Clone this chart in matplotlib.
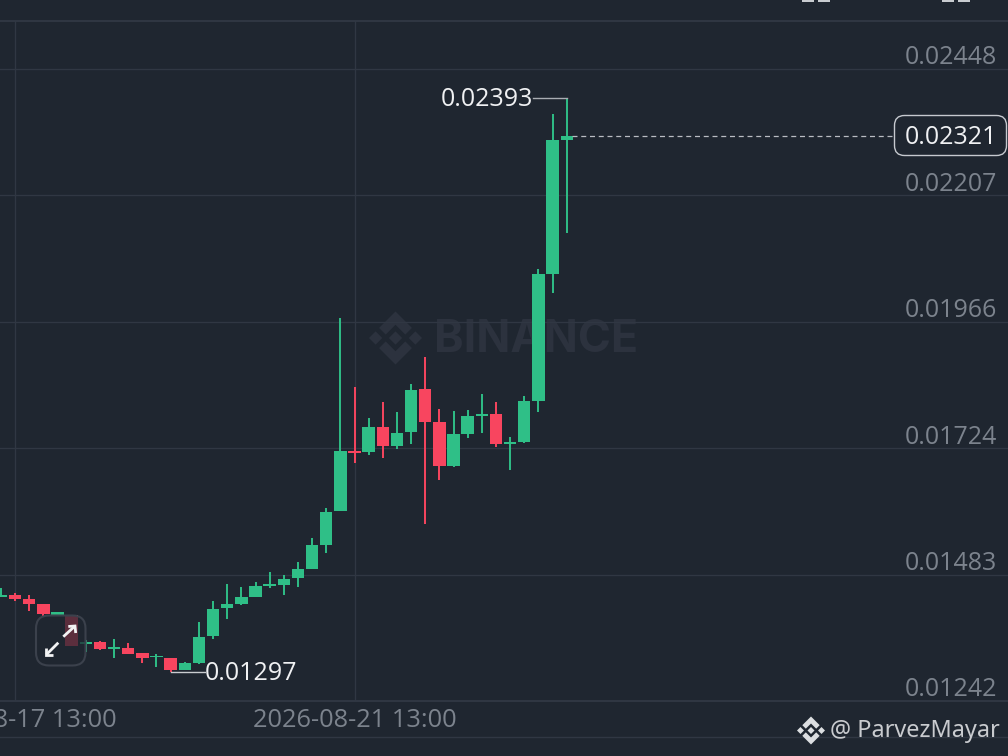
import matplotlib
matplotlib.use("Agg")
import matplotlib.pyplot as plt
import numpy as np
from matplotlib.patches import FancyBboxPatch, Polygon, Rectangle
from matplotlib.transforms import ScaledTranslation, blended_transform_factory

# ---- data ----
opens = [.014399,.014443,.014361,.014271,.014067,.014061,.013502,.013540,.013407,.013431,
         .013336,.013254,.013246,.013017,.013151,.013655,.014189,.014277,.014405,.014609,
         .014639,.014761,.014939,.015403,.016040,.017196,.017177,.017648,.017280,.017547,
         .018374,.017750,.016899,.017521,.017858,.017897,.017324,.017368,.018145,.020562,.023125]
highs = [.014571,.014475,.014443,.014277,.014113,.014061,.013584,.013565,.013597,.013521,
         .013345,.013311,.013250,.013164,.013922,.014334,.014653,.014590,.014696,.014887,
         .014830,.015078,.015525,.016097,.019723,.018417,.017820,.018120,.017929,.018463,
         .018990,.017992,.017948,.017973,.018272,.018120,.017452,.018246,.020658,.023615,.02393]
lows = [.014399,.014319,.014143,.014042,.014067,.013470,.013361,.013393,.013241,.013323,
        .013145,.013069,.012970,.013017,.013132,.013609,.013985,.014246,.014405,.014576,
        .014443,.014601,.014939,.015238,.016040,.016956,.017108,.017057,.017234,.017330,
        .015803,.016643,.016891,.017433,.017540,.017273,.016834,.017349,.017940,.020200,.021356]
closes = [.014443,.014357,.014265,.014074,.014113,.013470,.013540,.013407,.013445,.013323,
          .013241,.013284,.013017,.013145,.013641,.014170,.014265,.014405,.014609,.014647,
          .014754,.014933,.015403,.016032,.017196,.017158,.017648,.017286,.017534,.018360,
          .017744,.016899,.017515,.017858,.017902,.017330,.017368,.018145,.020562,.023125,.02321]
price_ticks = [0.01242, 0.01483, 0.01724, 0.01966, 0.02207, 0.02448]
date_tick_idx = [1, 25]
date_tick_labels = ["2026-08-17 13:00", "2026-08-21 13:00"]
last_price = 0.02321
high_label = 0.02393
low_label = 0.01297
high_idx, low_idx = 40, 12

BG = "#1f2630"
GRID = "#303743"
UP = "#2fbf87"
DOWN = "#f8455f"
TICK = "#7c838d"
WHITE = "#f0f1f3"
FONT = ["Open Sans", "DejaVu Sans"]
FS = 18
W, H = 1008, 756
PX = 0.72

fig = plt.figure(figsize=(W / 100, H / 100), dpi=100, facecolor=BG)

# layers: back (watermark), main (candles), over (widgets)
back = fig.add_axes([0, 0, 1, 1], zorder=0)
main = fig.add_axes([0, (H - 701) / H, 1, 680 / H], zorder=1)
over = fig.add_axes([0, 0, 1, 1], zorder=2)
for a in (back, over):
    a.set_xlim(0, W); a.set_ylim(H, 0); a.axis("off")
back.patch.set_alpha(0); over.patch.set_alpha(0)
main.patch.set_alpha(0)


def logo(ax, cx, cy, R, color, z=1):
    shapes = [
        [(0, -.25), (.25, 0), (0, .25), (-.25, 0)],
        [(.75, -.25), (1, 0), (.75, .25), (.5, 0)],
        [(-.75, -.25), (-.5, 0), (-.75, .25), (-1, 0)],
        [(0, -1), (.62, -.38), (.37, -.13), (0, -.5), (-.37, -.13), (-.62, -.38)],
        [(0, 1), (.62, .38), (.37, .13), (0, .5), (-.37, .13), (-.62, .38)],
    ]
    for s in shapes:
        ax.add_patch(Polygon([(cx + R * u, cy + R * v) for u, v in s], closed=True,
                             facecolor=color, edgecolor="none", zorder=z))


# watermark
logo(back, 395.5, 338, 26.5, "#2c323e")
back.text(434, 352.5, "BINANCE", fontsize=32.2, fontweight="bold", family=["Inter", "DejaVu Sans"],
          color="#2c323e", ha="left", va="baseline")

# main axes scale
step = 14.145
x0 = 0.9
main.set_xlim(-x0 / step, (W - x0) / step)
per_px = 1.9082e-5
main.set_ylim(0.01242, 0.01242 + 680 * per_px)

x = np.arange(len(opens))
o, h, l, c = map(np.array, (opens, highs, lows, closes))
colors = [UP if ci >= oi else DOWN for oi, ci in zip(o, c)]
main.vlines(x, l, h, colors=colors, linewidth=1.4, zorder=3)
main.bar(x, np.abs(c - o), bottom=np.minimum(o, c), width=12.4 / step, color=colors, zorder=4)

# axes, grid, ticks
main.set_yticks(price_ticks)
main.set_yticklabels([f"{p:.5f}" for p in price_ticks])
main.set_xticks(date_tick_idx)
main.set_xticklabels(date_tick_labels)
main.grid(True, color=GRID, linewidth=0.95, zorder=1)
main.yaxis.tick_right()
main.tick_params(axis="both", length=0)
main.tick_params(axis="y", pad=-11 * PX, labelsize=FS, labelcolor=TICK)
main.tick_params(axis="x", pad=7 * PX, labelsize=18.3, labelcolor=TICK)
shift = ScaledTranslation(0, -1.5 / 100, fig.dpi_scale_trans)
for t in main.get_yticklabels():
    t.set_ha("right"); t.set_va("bottom"); t.set_family(FONT)
    t.set_transform(t.get_transform() + shift)
for t in main.get_xticklabels():
    t.set_family(FONT)
for s in ("left", "right"):
    main.spines[s].set_visible(False)
main.spines["top"].set_color(GRID); main.spines["top"].set_linewidth(1.4)
main.spines["bottom"].set_color(GRID); main.spines["bottom"].set_linewidth(1.4)
over.plot([0, W], [737, 737], color=GRID, lw=1.0, zorder=1)

tr = blended_transform_factory(over.transData, main.transData)

# high / low callouts
over.plot([533, 567], [high_label, high_label], transform=tr, color="#a9adb3", lw=1.0, zorder=3)
over.plot([171, 205], [low_label, low_label], transform=tr, color="#c9ccd0", lw=1.0, zorder=3)
main.annotate(f"{high_label:.5f}", xy=(high_idx, high_label), xytext=(-34 * PX, -1.5 * PX),
              textcoords="offset points", ha="right", va="center", color=WHITE, fontsize=FS,
              family=FONT, zorder=6)
main.annotate(f"{low_label:.5f}", xy=(low_idx, low_label), xytext=(34 * PX, -1.5 * PX),
              textcoords="offset points", ha="left", va="center", color=WHITE, fontsize=FS,
              family=FONT, zorder=6)

# last-price dashed line and box
over.plot([572, 894], [last_price, last_price], transform=tr, color="#b9bdc3", lw=0.9,
          dashes=(4, 3), zorder=3)
over.add_patch(FancyBboxPatch((894.5, 115.5), 112, 40, boxstyle="round,pad=0,rounding_size=10",
                              facecolor=BG, edgecolor="#c6c9cf", lw=1.0, zorder=4))
over.text(950.5, 137.5, f"{last_price:.5f}", color=WHITE, fontsize=FS, family=FONT,
          ha="center", va="center", zorder=5)

# expand button
over.add_patch(FancyBboxPatch((36, 615.5), 49.5, 50, boxstyle="round,pad=0,rounding_size=13",
                              facecolor=BG, alpha=0.72, edgecolor="none", zorder=5))
over.add_patch(FancyBboxPatch((36, 615.5), 49.5, 50, boxstyle="round,pad=0,rounding_size=13",
                              facecolor="none", edgecolor="#3b414c", lw=1.5, zorder=6))
for pts in ([(63.3, 636.7), (75, 626)], [(68.3, 626.5), (75, 626), (75.7, 633)],
            [(58.3, 642.7), (46.5, 654.5)], [(46, 648), (46, 655), (53.3, 655)]):
    xs, ys = zip(*pts)
    over.plot(xs, ys, color="#f2f3f4", lw=2.0, solid_capstyle="butt", solid_joinstyle="miter", zorder=7)

# clipped marks at the very top
for left in (802, 818, 942, 958):
    over.add_patch(Rectangle((left, 0), 12, 1.5, facecolor="#c8ccd0", edgecolor="none", zorder=3))

# footer
logo(over, 811, 730.5, 14, "#dcdee1", z=6)
over.text(830, 731, "@ ParvezMayar", color="#c9cbcf", fontsize=16.9, family=["Noto Sans", "DejaVu Sans"],
          ha="left", va="center", zorder=6)

fig.savefig("out.png", dpi=100, facecolor=BG)
